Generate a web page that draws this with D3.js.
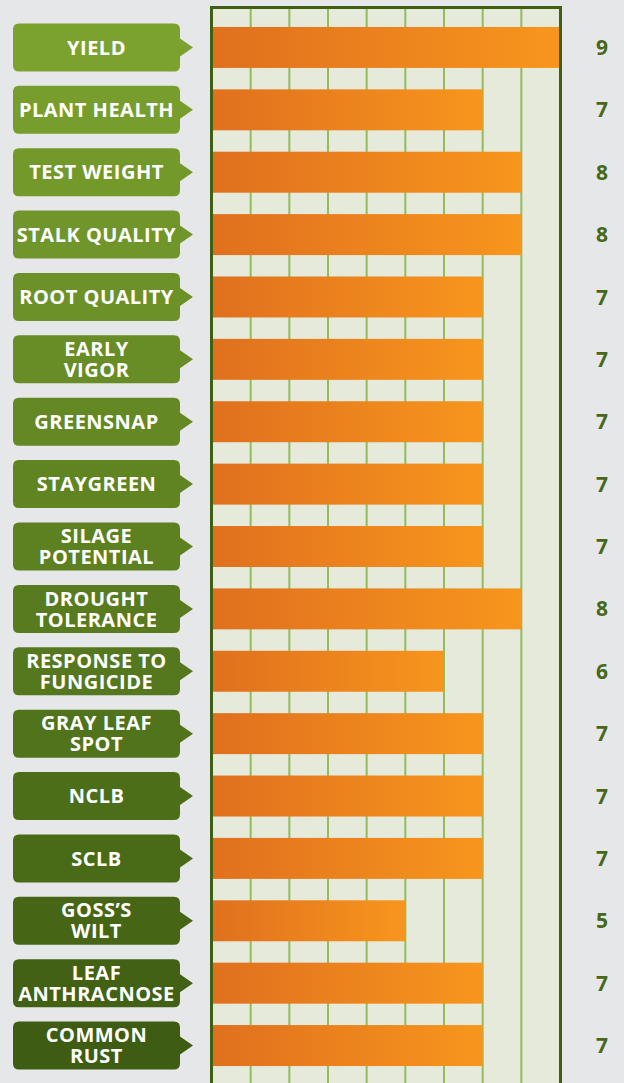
<!DOCTYPE html>
<html><head><meta charset="utf-8">
<script src="https://cdn.jsdelivr.net/npm/d3@7/dist/d3.min.js"></script>
<style>
html,body{margin:0;padding:0;background:#e6e7e9;}
svg{display:block;}
</style></head>
<body>
<svg id="chart" width="624" height="1083"></svg>
<script>
const categories = [
  ["YIELD"], ["PLANT HEALTH"], ["TEST WEIGHT"], ["STALK QUALITY"], ["ROOT QUALITY"],
  ["EARLY","VIGOR"], ["GREENSNAP"], ["STAYGREEN"], ["SILAGE","POTENTIAL"],
  ["DROUGHT","TOLERANCE"], ["RESPONSE TO","FUNGICIDE"], ["GRAY LEAF","SPOT"],
  ["NCLB"], ["SCLB"], ["GOSS\u2019S","WILT"], ["LEAF","ANTHRACNOSE"], ["COMMON","RUST"]
];
const values = [9,7,8,8,7,7,7,7,7,8,6,7,7,7,5,7,7];
const ticks = [0,1,2,3,4,5,6,7,8,9];

const svg = d3.select("#chart");
const W = 624, H = 1083;
const x = d3.scaleLinear().domain([0,9]).range([212,560]);
const y = d3.scaleBand().domain(d3.range(categories.length)).range([7,1086]).paddingInner(0.343).paddingOuter(0.32);
const labelColor = d3.scaleLinear().domain([0, categories.length-1]).range(["#7ba22f","#3e5d12"]).interpolate(d3.interpolateRgb);

const defs = svg.append("defs");
const g = defs.append("linearGradient").attr("id","barGrad").attr("x1","0").attr("x2","1").attr("y1","0").attr("y2","0");
g.append("stop").attr("offset","0").attr("stop-color","#e0701e");
g.append("stop").attr("offset","1").attr("stop-color","#f7961d");

// plot background
svg.append("rect").attr("x",x(0)).attr("y",7).attr("width",x(9)-x(0)).attr("height",H-7).attr("fill","#e5eadb");

// grid lines
svg.append("g").selectAll("line").data(ticks.slice(1,9)).join("line")
  .attr("x1",d=>x(d)).attr("x2",d=>x(d)).attr("y1",7).attr("y2",H)
  .attr("stroke","#94bb5c").attr("stroke-width",2);

// bars
svg.append("g").selectAll("rect").data(values).join("rect")
  .attr("x",x(0)).attr("y",(d,i)=>y(i)).attr("width",d=>x(d)-x(0)).attr("height",y.bandwidth())
  .attr("fill","url(#barGrad)");

// border
svg.append("path").attr("d",`M${x(0)-0.5},${H} V7.5 H${x(9)+0.5} V${H}`)
  .attr("fill","none").attr("stroke","#3f5f12").attr("stroke-width",3);

// labels
const lab = svg.append("g").selectAll("g").data(categories).join("g")
  .attr("transform",(d,i)=>`translate(0,${y(i)+y.bandwidth()/2})`);
const bx0 = 13, bx1 = 180, bh = 48, r = 6, tip = 193, ah = 9;
lab.append("path")
  .attr("d",`M${bx0+r},${-bh/2} H${bx1-r} Q${bx1},${-bh/2} ${bx1},${-bh/2+r} V${-ah} L${tip},0 L${bx1},${ah} V${bh/2-r} Q${bx1},${bh/2} ${bx1-r},${bh/2} H${bx0+r} Q${bx0},${bh/2} ${bx0},${bh/2-r} V${-bh/2+r} Q${bx0},${-bh/2} ${bx0+r},${-bh/2} Z`)
  .attr("fill",(d,i)=>labelColor(i));
lab.each(function(d){
  const t = d3.select(this).append("text")
    .attr("x",(bx0+bx1)/2).attr("text-anchor","middle")
    .attr("fill","#ffffff").attr("font-family","'Open Sans', sans-serif").attr("font-weight","bold")
    .attr("font-size",20).attr("letter-spacing","0.5px");
  const lh = 21;
  d.forEach((line,k)=>{
    t.append("tspan").attr("x",(bx0+bx1)/2).attr("y",(k-(d.length-1)/2)*lh).attr("dy","0.36em").text(line);
  });
});

// values
svg.append("g").selectAll("text").data(values).join("text")
  .attr("x",602).attr("y",(d,i)=>y(i)+y.bandwidth()/2).attr("dy","0.36em")
  .attr("text-anchor","middle").attr("fill","#466818")
  .attr("font-family","'Open Sans', sans-serif").attr("font-weight","bold").attr("font-size",21)
  .text(d=>d);
</script>
</body></html>
